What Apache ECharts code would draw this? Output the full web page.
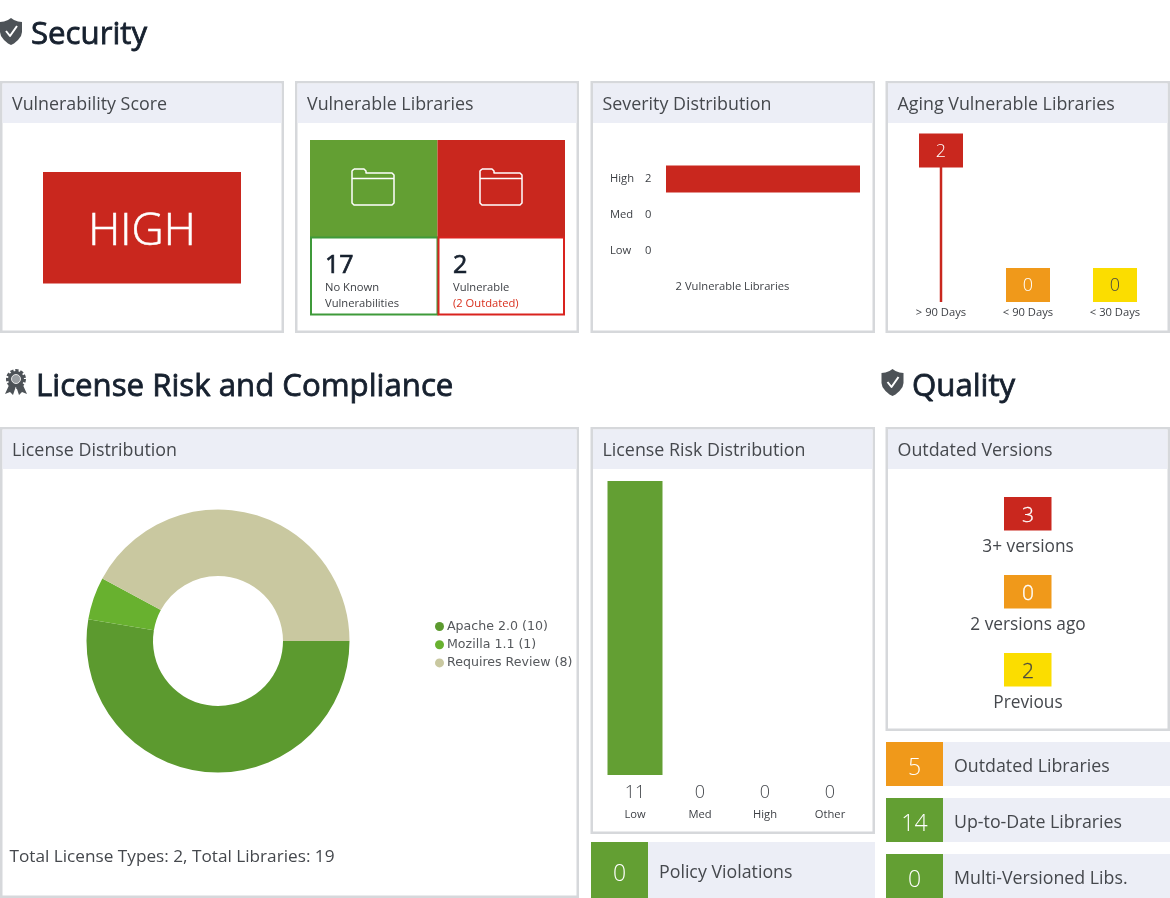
<!DOCTYPE html>
<html><head><meta charset="utf-8">
<style>html,body{margin:0;padding:0;background:#fff}#c{width:1170px;height:898px}</style>
<script src="https://cdn.jsdelivr.net/npm/echarts@6/dist/echarts.min.js"></script>
</head><body><div id="c"></div>
<script>
const vulnerabilityScore = 'HIGH';
const libraryCounts = [17, 2];
const libraryLabels = [['No Known', 'Vulnerabilities'], ['Vulnerable', '(2 Outdated)']];
const severityCats = ['High', 'Med', 'Low'];
const severityVals = [2, 0, 0];
const agingCats = ['> 90 Days', '< 90 Days', '< 30 Days'];
const agingVals = [2, 0, 0];
const licenseNames = ['Apache 2.0', 'Mozilla 1.1', 'Requires Review'];
const licenseVals = [10, 1, 8];
const riskCats = ['Low', 'Med', 'High', 'Other'];
const riskVals = [11, 0, 0, 0];
const versionLabels = ['3+ versions', '2 versions ago', 'Previous'];
const versionVals = [3, 0, 2];
const statLabels = ['Outdated Libraries', 'Up-to-Date Libraries', 'Multi-Versioned Libs.', 'Policy Violations'];
const statVals = [5, 14, 0, 0];

const RED='#c9271e', GREEN='#639f33', ORANGE='#f0991a', YELLOW='#fbdd00', HEAD='#eceef6', EDGE='#d6d8db', INK='#16202e', TXT='#45484d';
const FF='"Open Sans", sans-serif';
const g=[];
const rect=(x,y,w,h,fill,extra)=>g.push(Object.assign({type:'rect',z:0,shape:{x,y,width:w,height:h},style:{fill}},extra||{}));
const text=(s,x,y,size,fill,opt)=>{opt=opt||{};const st={text:String(s),fill,font:`${opt.w||400} ${size}px ${FF}`,textAlign:opt.a||'left',textVerticalAlign:'middle'};
  if(opt.s){st.stroke=fill;st.lineWidth=opt.s;}
  g.push({type:'text',z:1,x,y,style:st})};
const poly=(pts,x,y,fill)=>g.push({type:'polygon',z:1,x,y,shape:{points:pts},style:{fill}});
const line=(pts,x,y,stroke,lw)=>g.push({type:'polyline',z:1,x,y,shape:{points:pts},style:{fill:'none',stroke,lineWidth:lw,lineJoin:'round'}});

function panel(x,y,w,h,title){
  rect(x+1.25,y+1.25,w-2.5,h-2.5,'#fff',{style:{fill:'#fff',stroke:EDGE,lineWidth:2.5}});
  rect(x+2.5,y+2.5,w-5,39.5,HEAD);
  text(title,x+12,y+23.5,17.85,TXT);
}
const SHIELD=[[11,0],[14,2],[18,3.5],[22,4],[22,14],[21,18],[18,22],[14,25.5],[11,27],[8,25.5],[4,22],[1,18],[0,14],[0,4],[4,3.5],[8,2]];
const CHECK=[[6,13],[10,18],[17,8]];
function shield(x,y){poly(SHIELD,x,y,'#4d5257');line(CHECK,x,y,'#fff',2);}
shield(0,18);shield(881.5,369);
text('Security',31,35,31.2,INK,{s:0.8});
text('License Risk and Compliance',36,387,31.2,INK,{s:0.8});
text('Quality',912,387,31.2,INK,{s:0.8});
// badge
poly([[10,17],[5,28],[10,26],[13,29],[16,20]],0,366,'#4d5257');
poly([[22,17],[27,28],[22,26],[19,29],[16,20]],0,366,'#4d5257');
g.push({type:'circle',z:1,shape:{cx:16,cy:379,r:8},style:{fill:'#4d5257',stroke:'#4d5257',lineWidth:4,lineDash:[3,1.6]}});
g.push({type:'circle',z:1,shape:{cx:16,cy:379,r:4.5},style:{fill:'#9b9fa3',stroke:'#e6e6e6',lineWidth:1}});

panel(0,81,284,252,'Vulnerability Score');
panel(295,81,284,252,'Vulnerable Libraries');
panel(590.5,81,284.5,252,'Severity Distribution');
panel(885.5,81,284.5,252,'Aging Vulnerable Libraries');
panel(0,427,579,471,'License Distribution');
panel(590.5,427,284.5,407,'License Risk Distribution');
panel(885.5,427,284.5,304,'Outdated Versions');

rect(43,172,198,111.5,RED);
text(vulnerabilityScore,142,232.5,44.5,'#fff',{a:'center',w:300,s:0.6});

rect(310,140,127.5,97.5,GREEN);
rect(437.5,140,127.5,97.5,RED);
rect(311,237.5,126.5,77,'#fff',{style:{fill:'#fff',stroke:'#3f9a3a',lineWidth:2}});
rect(438.5,237.5,125.5,77,'#fff',{style:{fill:'#fff',stroke:'#d9231e',lineWidth:2}});
const FOLDER=[[2,0],[12,0],[14,2],[14,4],[40,4],[42,6],[42,34],[40,36],[2,36],[0,34],[0,2],[2,0]];
function folder(x,y){line(FOLDER,x,y,'#fff',1.5);line([[0,9.5],[42,9.5]],x,y,'#fff',1.5);}
folder(352,169);folder(480,169);
[325,453].forEach((x,i)=>{
  text(libraryCounts[i],x,266,25,INK,{s:0.7});
  text(libraryLabels[i][0],x,288,11.2,'#3c3f44');
  text(libraryLabels[i][1],x,304,11.2,i?'#d9301e':'#3c3f44');
});

text(severityVals.reduce((a,b)=>a+b,0)+' Vulnerable Libraries',732.5,287,11.2,'#3c3f44',{a:'center'});
text('Total License Types: 2, Total Libraries: '+licenseVals.reduce((a,b)=>a+b,0),9.5,857,17.2,TXT);

const vColors=[RED,ORANGE,YELLOW];
versionVals.forEach((v,i)=>{
  const y=497+i*78;
  rect(1004,y,47.5,33.5,vColors[i]);
  text(v,1028,y+19,21,i==2?'#4a4a40':'#fff',{a:'center',w:300,s:0.3});
  text(versionLabels[i],1028,y+50,17.3,TXT,{a:'center'});
});

function stat(x,y,w,h,v,label,color){
  rect(x,y,w,h,HEAD);
  rect(x,y,57,h,color);
  text(v,x+28.5,y+h/2+4,23,'#fff',{a:'center',w:300});
  text(label,x+68,y+h/2+3,17.8,TXT);
}
stat(886,742,284,44,statVals[0],statLabels[0],ORANGE);
stat(886,798,284,44,statVals[1],statLabels[1],GREEN);
stat(886,854,284,44,statVals[2],statLabels[2],GREEN);
stat(591,842,284,56,statVals[3],statLabels[3],GREEN);

const agingColors=[RED,ORANGE,YELLOW];
const chart=echarts.init(document.getElementById('c'),null,{renderer:'canvas'});
chart.setOption({
  animation:false,
  backgroundColor:'#fff',
  textStyle:{fontFamily:FF},
  graphic:{elements:g},
  grid:[
    {left:666,top:161,width:194,height:108},
    {left:897.5,top:150.5,width:261,height:134.5},
    {left:602.5,top:481,width:260,height:294}
  ],
  xAxis:[
    {gridIndex:0,type:'value',min:0,max:2,show:false},
    {gridIndex:1,type:'category',data:agingCats,axisLine:{show:false},axisTick:{show:false},splitLine:{show:false},
      axisLabel:{margin:22.5,fontSize:11.2,color:'#3c3f44',interval:0,fontFamily:FF}},
    {gridIndex:2,type:'category',data:riskCats,axisLine:{show:false},axisTick:{show:false},splitLine:{show:false},
      axisLabel:{margin:6,interval:0,fontFamily:FF,
        formatter:(n,i)=>`{v|${riskVals[i]}}\n{n|${n}}`,
        rich:{v:{fontSize:18,fontWeight:300,color:'#45484d',lineHeight:24,fontFamily:FF},n:{fontSize:11.2,color:'#3c3f44',lineHeight:20,fontFamily:FF}}}}
  ],
  yAxis:[
    {gridIndex:0,type:'category',inverse:true,data:severityCats,axisLine:{show:false},axisTick:{show:false},splitLine:{show:false},
      axisLabel:{margin:56,align:'left',interval:0,fontFamily:FF,
        formatter:(n,i)=>`{a|${n}}{b|${severityVals[i]}}`,
        rich:{a:{width:35,fontSize:11.2,color:'#3c3f44',fontFamily:FF},b:{fontSize:11.2,color:'#3c3f44',fontFamily:FF}}}},
    {gridIndex:1,type:'value',min:0,max:2,show:false},
    {gridIndex:2,type:'value',min:0,max:11,show:false}
  ],
  legend:{orient:'vertical',left:430,top:615,icon:'circle',itemWidth:9,itemHeight:9,itemGap:5.2,
    data:licenseNames,
    formatter:n=>`${n} (${licenseVals[licenseNames.indexOf(n)]})`,
    textStyle:{fontFamily:'"DejaVu Sans", sans-serif',fontSize:12.6,color:'#55585c',padding:[0,0,0,-2]}},
  series:[
    {type:'bar',xAxisIndex:0,yAxisIndex:0,data:severityVals,barWidth:27,itemStyle:{color:RED},silent:true},
    {type:'custom',xAxisIndex:1,yAxisIndex:1,
      data:agingVals.map((v,i)=>[agingCats[i],v]),
      encode:{x:0,y:1},
      renderItem:(p,api)=>{
        const v=api.value(1), c=api.coord([api.value(0),v]), base=api.coord([api.value(0),0])[1];
        const col=agingColors[p.dataIndex], kids=[];
        if(v>0) kids.push({type:'rect',shape:{x:c[0]-1.25,y:c[1],width:2.5,height:base+17-c[1]},style:{fill:col}});
        kids.push({type:'rect',shape:{x:c[0]-22,y:c[1]-17,width:44,height:34},style:{fill:col}});
        kids.push({type:'text',style:{text:String(v),x:c[0],y:c[1]+1,align:'center',verticalAlign:'middle',font:`300 18px ${FF}`,fill:p.dataIndex==2?'#4a4a40':'#fff'}});
        return {type:'group',children:kids};
      }},
    {type:'bar',xAxisIndex:2,yAxisIndex:2,data:riskVals,barWidth:55,itemStyle:{color:GREEN},silent:true},
    {type:'pie',center:[218,641],radius:[65,131.5],startAngle:0,clockwise:true,silent:true,
      label:{show:false},labelLine:{show:false},
      data:licenseNames.map((n,i)=>({name:n,value:licenseVals[i]})),
      color:['#5c9a2f','#68b12f','#c9c8a0']}
  ]
});
</script></body></html>
